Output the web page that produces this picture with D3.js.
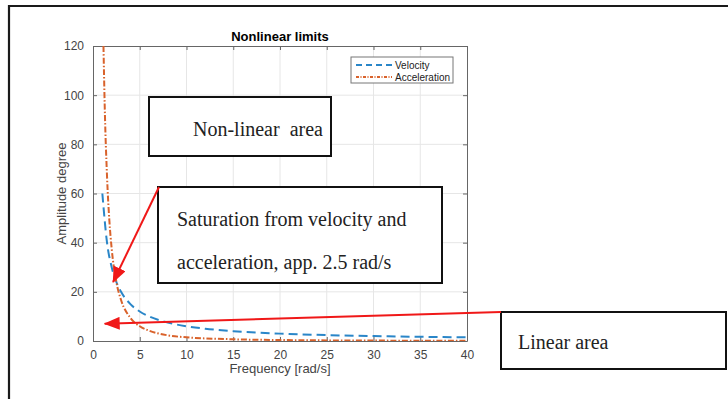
<!DOCTYPE html>
<html lang="en">
<head>
<meta charset="utf-8">
<title>Nonlinear limits</title>
<script src="https://d3js.org/d3.v7.min.js"></script>
<style>
  body { margin: 0; background: #fff; }
  .tick text { font-family: "Liberation Sans", Arial, sans-serif; font-size: 12px; fill: #444; }
  .note { font-family: "Liberation Serif", "DejaVu Serif", serif; font-size: 20px; fill: #222; }
</style>
</head>
<body>
<div id="chart"></div>
<script>
// values
var freqV = [1, 1.5, 2, 2.5, 3, 4, 5, 6, 8, 10, 12, 15, 20, 25, 30, 35, 40];
var velocity = [60, 40, 30, 24, 20, 15, 12, 10, 7.5, 6, 5, 4, 3, 2.4, 2, 1.7, 1.5];
var freqA = [1.12, 1.25, 1.5, 1.75, 2, 2.5, 3, 4, 5, 6, 8, 10, 15, 20, 25, 30, 40];
var acceleration = [120, 96, 67, 49, 37.5, 24, 16.7, 9.4, 6, 4.2, 2.3, 1.5, 0.7, 0.4, 0.25, 0.17, 0.1];
var xTicks = [0, 5, 10, 15, 20, 25, 30, 35, 40];
var yTicks = [0, 20, 40, 60, 80, 100, 120];

var W = 728, H = 399;
var margin = {top: 46, right: 261, bottom: 58, left: 93},
    width = W - margin.left - margin.right,
    height = H - margin.top - margin.bottom;

var svg = d3.select("#chart").append("svg")
    .attr("width", W)
    .attr("height", H);

// page frame (top + left only, rest is cut off)
svg.append("path")
    .attr("d", "M9,399V6H728")
    .attr("fill", "none")
    .attr("stroke", "#1a1a1a")
    .attr("stroke-width", 2.2);

var g = svg.append("g")
    .attr("transform", "translate(" + margin.left + "," + margin.top + ")");

var x = d3.scaleLinear().domain([0, 40]).range([0, width]);
var y = d3.scaleLinear().domain([0, 120]).range([height, 0]);

// grid
g.append("g").selectAll("line").data(xTicks.slice(1, -1)).enter().append("line")
    .attr("x1", d => x(d)).attr("x2", d => x(d))
    .attr("y1", 0).attr("y2", height)
    .attr("stroke", "#e6e6e6");
g.append("g").selectAll("line").data(yTicks.slice(1, -1)).enter().append("line")
    .attr("y1", d => y(d)).attr("y2", d => y(d))
    .attr("x1", 0).attr("x2", width)
    .attr("stroke", "#e6e6e6");

// axes, matlab style ticks pointing inwards
function styleAxis(sel) {
  sel.select(".domain").attr("stroke", "#666");
  sel.selectAll(".tick line").attr("stroke", "#666");
}
g.append("g").attr("transform", "translate(0," + height + ")")
    .call(d3.axisBottom(x).tickValues(xTicks).tickSizeInner(-4).tickSizeOuter(0).tickPadding(9))
    .call(styleAxis);
g.append("g")
    .call(d3.axisLeft(y).tickValues(yTicks).tickSizeInner(-4).tickSizeOuter(0).tickPadding(9))
    .call(styleAxis);
g.append("g")
    .call(d3.axisTop(x).tickValues(xTicks).tickSizeInner(-4).tickSizeOuter(0).tickFormat(""))
    .call(styleAxis);
g.append("g").attr("transform", "translate(" + width + ",0)")
    .call(d3.axisRight(y).tickValues(yTicks).tickSizeInner(-4).tickSizeOuter(0).tickFormat(""))
    .call(styleAxis);

// labels
g.append("text")
    .attr("x", width / 2).attr("y", -5)
    .attr("text-anchor", "middle")
    .style("font-family", "Liberation Sans, Arial, sans-serif")
    .style("font-size", "13px").style("font-weight", "bold")
    .text("Nonlinear limits");
g.append("text")
    .attr("x", width / 2).attr("y", height + 32)
    .attr("text-anchor", "middle")
    .style("font-family", "Liberation Sans, Arial, sans-serif")
    .style("font-size", "13px").attr("fill", "#444")
    .text("Frequency [rad/s]");
g.append("text")
    .attr("transform", "rotate(-90)")
    .attr("x", -y(60)).attr("y", -27)
    .attr("text-anchor", "middle")
    .style("font-family", "Liberation Sans, Arial, sans-serif")
    .style("font-size", "13px").attr("fill", "#444")
    .text("Amplitude degree");

// curves
g.append("clipPath").attr("id", "clip")
  .append("rect").attr("width", width).attr("height", height);

var line = d3.line()
    .x(d => x(d[0]))
    .y(d => y(d[1]))
    .curve(d3.curveMonotoneX);

var plot = g.append("g").attr("clip-path", "url(#clip)");
plot.append("path")
    .datum(freqV.map((f, i) => [f, velocity[i]]))
    .attr("d", line)
    .attr("fill", "none")
    .attr("stroke", "#2a86c8")
    .attr("stroke-width", 2)
    .attr("stroke-dasharray", "9,5");
plot.append("path")
    .datum(freqA.map((f, i) => [f, acceleration[i]]))
    .attr("d", line)
    .attr("fill", "none")
    .attr("stroke", "#d9622b")
    .attr("stroke-width", 2)
    .attr("stroke-dasharray", "6,2,1.5,2");

// legend
var leg = svg.append("g").attr("transform", "translate(351,57)");
leg.append("rect")
    .attr("width", 102).attr("height", 26)
    .attr("fill", "#fff").attr("stroke", "#777");
var items = [["Velocity", "#2a86c8", "6,4"], ["Acceleration", "#d9622b", "3,1.5,1,1.5"]];
items.forEach(function (it, i) {
  var yy = 8 + i * 12;
  leg.append("line").attr("x1", 5).attr("x2", 41).attr("y1", yy).attr("y2", yy)
      .attr("stroke", it[1]).attr("stroke-width", 2).attr("stroke-dasharray", it[2]);
  leg.append("text").attr("x", 44).attr("y", yy + 3.5)
      .style("font-family", "Liberation Sans, Arial, sans-serif")
      .style("font-size", "10px").attr("fill", "#222")
      .text(it[0]);
});

// annotation boxes
function box(x0, y0, w, h) {
  svg.append("rect").attr("x", x0).attr("y", y0).attr("width", w).attr("height", h)
      .attr("fill", "#fff").attr("stroke", "#111").attr("stroke-width", 2);
}
box(149, 97, 182, 59);
svg.append("text").attr("class", "note").attr("x", 193).attr("y", 136)
    .attr("xml:space", "preserve").text("Non-linear  area");

box(158, 187, 284, 96);
svg.append("text").attr("class", "note").attr("x", 177).attr("y", 226)
    .text("Saturation from velocity and");
svg.append("text").attr("class", "note").attr("x", 177).attr("y", 269)
    .text("acceleration, app. 2.5 rad/s");

box(501, 312, 225, 57);
svg.append("text").attr("class", "note").attr("x", 518).attr("y", 349)
    .text("Linear area");

// red arrows
svg.append("defs").append("marker")
    .attr("id", "head")
    .attr("viewBox", "0 0 16 13")
    .attr("refX", 15).attr("refY", 6.5)
    .attr("markerWidth", 16).attr("markerHeight", 13)
    .attr("markerUnits", "userSpaceOnUse")
    .attr("orient", "auto")
  .append("path").attr("d", "M0,0L16,6.5L0,13Z").attr("fill", "#f01818");

function arrow(x0, y0, fx, fy) {
  svg.append("line")
      .attr("x1", x0).attr("y1", y0)
      .attr("x2", margin.left + x(fx)).attr("y2", margin.top + y(fy))
      .attr("stroke", "#f01818").attr("stroke-width", 2)
      .attr("marker-end", "url(#head)");
}
arrow(159, 187, 2.15, 24);
arrow(501, 312, 1.25, 7);
</script>
</body>
</html>
